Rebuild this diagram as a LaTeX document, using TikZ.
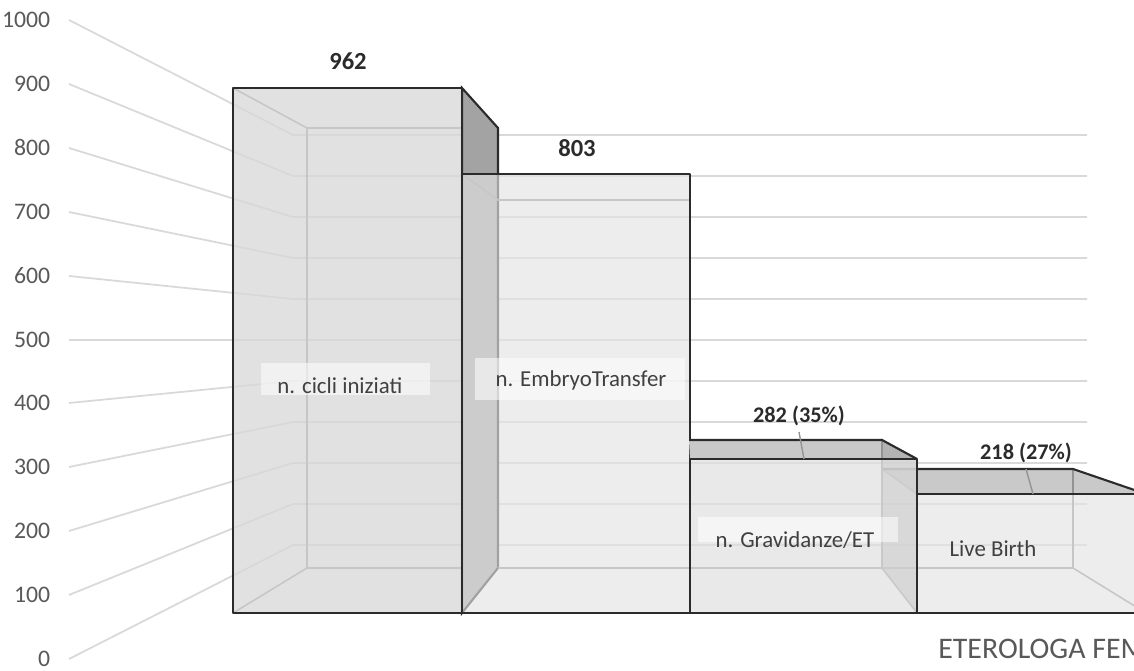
\documentclass[tikz,border=0pt]{standalone}
\usepackage{fontspec}
\setmainfont{Carlito}
\definecolor{axisgray}{HTML}{595959}
\definecolor{labelgray}{HTML}{404040}
\definecolor{gridgray}{HTML}{D9D9D9}
\definecolor{edgedark}{HTML}{2B2B2B}
\definecolor{edgelight}{HTML}{939393}
\definecolor{sidedark}{HTML}{A3A3A3}
\definecolor{sidegray}{HTML}{A8A8A8}
\definecolor{topgray}{HTML}{C9C9C9}
\definecolor{bar1gray}{HTML}{D8D8D8}
\definecolor{bar2gray}{HTML}{E4E4E4}
\definecolor{bar3gray}{HTML}{E0E0E0}

\begin{document}
\begin{tikzpicture}[x=0.02cm,y=-0.02cm,
	gridline/.style={gridgray,line width=1pt},
	tick/.style={anchor=base east,inner sep=0pt,text=axisgray,font=\fontsize{13.5}{15}\selectfont},
	frontface/.style={draw=edgedark,line width=1.4pt,line join=round},
	backedge/.style={edgelight,line width=0.9pt},
	topedge/.style={edgedark,line width=1.2pt},
	value/.style={anchor=base,inner sep=0pt,text=edgedark,font=\bfseries\fontsize{14}{16}\selectfont},
	pct/.style={value,font=\bfseries\fontsize{12.7}{15}\selectfont},
	catlabel/.style={anchor=base,inner sep=0pt,text=labelgray,font=\fontsize{13}{15}\selectfont},
	labelbox/.style={white,fill opacity=0.55},
	leader/.style={edgelight,line width=0.8pt}]
		\useasboundingbox (0,0) rectangle (1134,671);
		\clip (0,0) rectangle (1134,671);
		\fill[white] (0,0) rectangle (1134,671);

		% walls and value axis
		\draw[gridline] (69,20) -- (293,135) -- (1087,135) (51,28) node(t1000) [tick] {1000};
		\draw[gridline] (69,84) -- (293,176) -- (1087,176) (51,92) node(t900) [tick] {900};
		\draw[gridline] (69,148) -- (293,217) -- (1087,217) (51,156) node(t800) [tick] {800};
		\draw[gridline] (69,212) -- (293,258) -- (1087,258) (51,220) node(t700) [tick] {700};
		\draw[gridline] (69,276) -- (293,299) -- (1087,299) (51,284) node(t600) [tick] {600};
		\draw[gridline] (69,340) -- (293,340) -- (1087,340) (51,348) node(t500) [tick] {500};
		\draw[gridline] (69,403) -- (293,381) -- (1087,381) (51,411) node(t400) [tick] {400};
		\draw[gridline] (69,467) -- (293,422) -- (1087,422) (51,475) node(t300) [tick] {300};
		\draw[gridline] (69,531) -- (293,463) -- (1087,463) (51,539) node(t200) [tick] {200};
		\draw[gridline] (69,595) -- (293,504) -- (1087,504) (51,603) node(t100) [tick] {100};
		\draw[gridline] (69,659) -- (293,545) -- (1087,545) (51,667) node(t0) [tick] {0};

		\path (233,88) coordinate (b1_ftl);
		\path (462,88) coordinate (b1_ftr);
		\path (233,613) coordinate (b1_fbl);
		\path (462,613) coordinate (b1_fbr);
		\path (307,128) coordinate (b1_btl);
		\path (498,128) coordinate (b1_btr);
		\path (307,568) coordinate (b1_bbl);
		\path (498,568) coordinate (b1_bbr);

		\path (462,174) coordinate (b2_ftl);
		\path (690,613) coordinate (b2_fbr);
		\path (498,200) coordinate (b2_btl);
		\path (689,200) coordinate (b2_btr);
		\path (498,568) coordinate (b2_bbl);
		\path (689,568) coordinate (b2_bbr);

		\path (690,459) coordinate (b3_ftl);
		\path (917,459) coordinate (b3_ftr);
		\path (917,613) coordinate (b3_fbr);
		\path (689,440) coordinate (b3_btl);
		\path (882,440) coordinate (b3_btr);
		\path (689,568) coordinate (b3_bbl);
		\path (882,568) coordinate (b3_bbr);
		\path (804,459) coordinate (b3_lead);

		\path (917,494) coordinate (b4_ftl);
		\path (1146,494) coordinate (b4_ftr);
		\path (1146,613) coordinate (b4_fbr);
		\path (882,469) coordinate (b4_btl);
		\path (1073,469) coordinate (b4_btr);
		\path (882,568) coordinate (b4_bbl);
		\path (1073,568) coordinate (b4_bbr);
		\path (1033,494) coordinate (b4_lead);

		% n. cicli iniziati
		\draw[backedge] (b1_ftl) -- (b1_btl) -- (b1_btr) (b1_btl) -- (b1_bbl) -- (b1_bbr) (b1_fbl) -- (b1_bbl);
		\filldraw[fill=sidedark,draw=edgedark,line width=1.2pt] (b1_ftr) -- (b1_btr) -- (b1_bbr) -- (b1_fbr) -- cycle;
		\filldraw[frontface,fill=bar1gray,fill opacity=0.75] (b1_ftl) rectangle (b1_fbr);

		% n. EmbryoTransfer
		\draw[backedge] (b2_ftl) -- (b2_btl) -- (b2_btr) (b2_bbl) -- (b2_bbr);
		\filldraw[frontface,fill=bar2gray,fill opacity=0.64] (b2_ftl) rectangle (b2_fbr);

		% Live Birth
		\fill[topgray] (b4_ftl) -- (b4_btl) -- (b4_btr) -- (b4_ftr) -- cycle;
		\draw[backedge] (b4_ftl) -- (b4_btl) (b4_btr) -- (b4_bbr) -- (b4_fbr) (b4_bbl) -- (b4_bbr);
		\draw[topedge] (b4_btl) -- (b4_btr) -- (b4_ftr);
		\filldraw[frontface,fill=bar2gray,fill opacity=0.64] (b4_ftl) rectangle (b4_fbr);

		% n. Gravidanze/ET
		\fill[topgray] (b3_ftl) -- (b3_btl) -- (b3_btr) -- (b3_ftr) -- cycle;
		\filldraw[fill=sidegray,fill opacity=0.65,draw=edgelight,line width=0.9pt] (b3_ftr) -- (b3_btr) -- (b3_bbr) -- (b3_fbr);
		\draw[backedge] (b3_bbl) -- (b3_bbr);
		\draw[topedge] (b3_btl) -- (b3_btr) -- (b3_ftr);
		\filldraw[frontface,fill=bar3gray,fill opacity=0.7] (b3_ftl) rectangle (b3_fbr);

		% category labels
		\fill[labelbox] (261,363) rectangle (430,395);
		\draw (340,394) node(cicli_lbl) [catlabel] {n. cicli iniziati};
		\fill[labelbox] (475,358) rectangle (685,400);
		\draw (581,387) node(embryo_lbl) [catlabel] {n. EmbryoTransfer};
		\fill[labelbox] (698,517) rectangle (898,542);
		\draw (795,548) node(grav_lbl) [catlabel] {n. Gravidanze/ET};
		\draw (993,557) node(live_lbl) [catlabel] {Live Birth};

		% data labels
		\draw (348,70) node(v962) [value] {962};
		\draw (577,157) node(v803) [value] {803};
		\draw (799,423) node(v282) [pct] {282 (35\%)};
		\draw[leader] ([yshift=-3pt]v282.south) -- (b3_lead);
		\draw (1026,460) node(v218) [pct] {218 (27\%)};
		\draw[leader] ([yshift=-3pt]v218.south) -- (b4_lead);

		\draw (938,659) node(axis_title) [anchor=base west,inner sep=0pt,text=axisgray,font=\fontsize{17}{20}\selectfont] {ETEROLOGA FEM};
	\end{tikzpicture}
\end{document}
